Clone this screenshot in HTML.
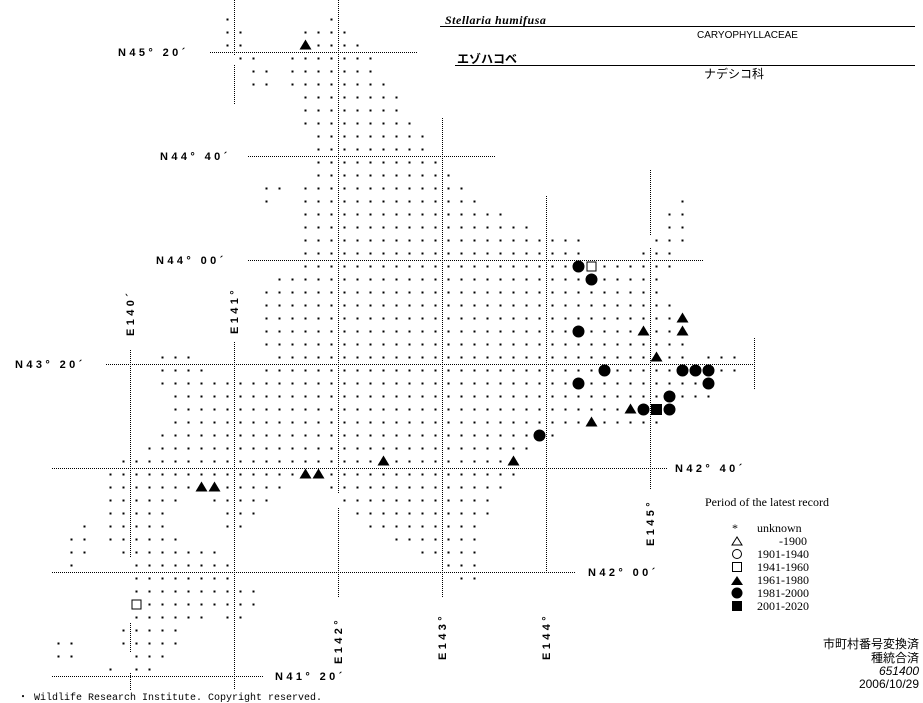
<!DOCTYPE html>
<html><head><meta charset="utf-8">
<style>
html,body{margin:0;padding:0;background:#fff;}
body{width:923px;height:703px;overflow:hidden;position:relative;}
svg{position:absolute;left:0;top:0;}
.lab{font-family:"Liberation Sans",sans-serif;font-weight:bold;font-size:11px;letter-spacing:3.4px;fill:#000;}
.mono{font-family:"Liberation Mono","Noto Sans CJK JP",monospace;font-size:10px;fill:#000;}
.serif{font-family:"Liberation Serif",serif;font-size:12px;fill:#000;}
.jp{font-family:"Liberation Sans","Noto Sans CJK JP",sans-serif;font-size:12px;fill:#000;}
</style></head><body>
<svg id="s" width="923" height="703" viewBox="0 0 923 703" xmlns="http://www.w3.org/2000/svg">
<g stroke="#000" stroke-width="1" stroke-dasharray="1 1" fill="none" shape-rendering="crispEdges">
<line x1="210" y1="52.5" x2="417" y2="52.5"/>
<line x1="248" y1="156.5" x2="495" y2="156.5"/>
<line x1="248" y1="260.5" x2="703" y2="260.5"/>
<line x1="106" y1="364.5" x2="754" y2="364.5"/>
<line x1="52" y1="468.5" x2="668" y2="468.5"/>
<line x1="52" y1="572.5" x2="575" y2="572.5"/>
<line x1="52" y1="676.5" x2="263" y2="676.5"/>
<line x1="130.5" y1="350" x2="130.5" y2="557"/>
<line x1="130.5" y1="623" x2="130.5" y2="652"/>
<line x1="130.5" y1="673" x2="130.5" y2="690"/>
<line x1="234.5" y1="0" x2="234.5" y2="55"/>
<line x1="234.5" y1="65" x2="234.5" y2="105"/>
<line x1="234.5" y1="342" x2="234.5" y2="690"/>
<line x1="338.5" y1="0" x2="338.5" y2="493"/>
<line x1="338.5" y1="508" x2="338.5" y2="598"/>
<line x1="442.5" y1="118" x2="442.5" y2="598"/>
<line x1="546.5" y1="196" x2="546.5" y2="572"/>
<line x1="650.5" y1="170" x2="650.5" y2="235"/>
<line x1="650.5" y1="248" x2="650.5" y2="490"/>
<line x1="754.5" y1="338" x2="754.5" y2="390"/>
</g>
<g id="dots" fill="#000"></g>
<g id="mk" fill="#000"></g>
<text class="lab" x="118" y="56">N45° 20´</text>
<text class="lab" x="160" y="160">N44° 40´</text>
<text class="lab" x="156" y="264">N44° 00´</text>
<text class="lab" x="15" y="368">N43° 20´</text>
<text class="lab" x="675" y="472">N42° 40´</text>
<text class="lab" x="588" y="576">N42° 00´</text>
<text class="lab" x="275" y="680">N41° 20´</text>
<text class="lab" transform="translate(134,336) rotate(-90)">E140´</text>
<text class="lab" transform="translate(238,334) rotate(-90)">E141°</text>
<text class="lab" transform="translate(342,664) rotate(-90)">E142°</text>
<text class="lab" transform="translate(446,660) rotate(-90)">E143°</text>
<text class="lab" transform="translate(550,660) rotate(-90)">E144°</text>
<text class="lab" transform="translate(654,546) rotate(-90)">E145°</text>
<text x="445" y="24" style="font-family:'Liberation Serif',serif;font-style:italic;font-weight:bold;font-size:12px;letter-spacing:0.5px">Stellaria humifusa</text>
<line x1="440" y1="26.5" x2="915" y2="26.5" stroke="#000"/>
<text x="697" y="38" style="font-family:'Liberation Sans',sans-serif;font-size:10px">CARYOPHYLLACEAE</text>
<text x="457" y="63" class="jp" style="font-weight:bold">エゾハコベ</text>
<line x1="455" y1="65.5" x2="915" y2="65.5" stroke="#000"/>
<text x="704" y="78" class="jp">ナデシコ科</text>
<text x="705" y="506" class="serif">Period of the latest record</text>
<g class="serif">
<text x="732" y="532">*</text>
<text x="757" y="532">unknown</text>
<text x="779" y="545">-1900</text>
<text x="757" y="558">1901-1940</text>
<text x="757" y="571">1941-1960</text>
<text x="757" y="584">1961-1980</text>
<text x="757" y="597">1981-2000</text>
<text x="757" y="610">2001-2020</text>
</g>
<g fill="none" stroke="#000">
<polygon points="737,537 732,545 742,545"/>
<circle cx="737" cy="554" r="4.5"/>
<rect x="732.5" y="562.5" width="9" height="9"/>
</g>
<polygon points="737,576 731,585 743,585" fill="#000"/>
<circle cx="737" cy="593" r="5.5" fill="#000"/>
<rect x="732" y="601" width="10" height="10" fill="#000"/>
<g class="jp" text-anchor="end">
<text x="919" y="648">市町村番号変換済</text>
<text x="919" y="662">種統合済</text>
<text x="919" y="675" style="font-style:italic">651400</text>
<text x="919" y="688">2006/10/29</text>
</g>
<text x="18" y="700" class="mono">・ Wildlife Research Institute. Copyright reserved.</text>
</svg>
<script>
var R={1:[[17],[25]],2:[[17,18],[23,26]],3:[[17,18],[23,27]],4:[[18,19],[22,28]],5:[[19,20],[22,28]],6:[[19,20],[22,29]],
7:[[23,30]],8:[[23,30]],9:[[23,31]],10:[[24,32]],11:[[24,32]],12:[[24,33]],13:[[24,34]],14:[[20,21],[23,35]],15:[[20],[23,36],[52]],
16:[[23,38],[51,52]],17:[[23,40],[51,52]],18:[[23,44],[50,52]],19:[[23,44],[49,51]],20:[[23,51]],21:[[21,50]],22:[[20,50]],23:[[20,51]],
24:[[20,52]],25:[[20,52]],26:[[20,52]],27:[[12,14],[21,52],[54,56]],28:[[12,15],[20,56]],29:[[12,54]],30:[[13,54]],31:[[13,51]],32:[[13,50]],
33:[[12,42]],34:[[11,40]],35:[[9,39]],36:[[8,39]],37:[[8,21],[25,38]],38:[[8,13],[16,20],[26,37]],39:[[8,12],[17,19],[27,37]],
40:[[6],[8,12],[17,18],[28,36]],41:[[5,6],[8,13],[30,36]],42:[[5,6],[9,16],[32,36]],43:[[5],[10,17],[34,36]],44:[[10,17],[35,36]],
45:[[10,19]],46:[[10,19]],47:[[10,15],[17,18]],48:[[9,13]],49:[[4,5],[9,13]],50:[[4,5],[10,12]],51:[[8],[10,11]]};
var M={"3,23":"t","20,44":"c","20,45":"S","21,45":"c","24,52":"t","25,44":"c","25,49":"t","25,52":"t","27,50":"t","28,46":"c","28,52":"c","28,53":"c","28,54":"c",
"29,44":"c","29,54":"c","30,51":"c","31,48":"t","31,49":"c","31,50":"s","31,51":"c","32,45":"t","33,41":"c","35,29":"t","35,39":"t","36,23":"t","36,24":"t","37,15":"t","37,16":"t","46,10":"S"};
var NS="http://www.w3.org/2000/svg",d=document.getElementById("dots"),m=document.getElementById("mk");
function el(t,a,p){var e=document.createElementNS(NS,t);for(var k in a)e.setAttribute(k,a[k]);p.appendChild(e);}
for(var r in R){R[r].forEach(function(s){var a=s[0],b=s.length>1?s[1]:s[0];for(var k=a;k<=b;k++){
var x=13*k+6.5,y=13*r+6.5,key=r+","+k,t=M[key];
if(!t)el("rect",{x:x-1,y:y-1,width:2,height:2},d);}});}
for(var key in M){var p=key.split(","),r=+p[0],k=+p[1],x=13*k+6.5,y=13*r+6.5,t=M[key];
if(t=="c")el("circle",{cx:x,cy:y,r:6},m);
else if(t=="t")el("polygon",{points:(x)+","+(y-6)+" "+(x-6)+","+(y+4)+" "+(x+6)+","+(y+4)},m);
else if(t=="s")el("rect",{x:x-5.5,y:y-5.5,width:11,height:11},m);
else el("rect",{x:x-4.5,y:y-4.5,width:9,height:9,fill:"#fff",stroke:"#000"},m);}
</script>
</body></html>
